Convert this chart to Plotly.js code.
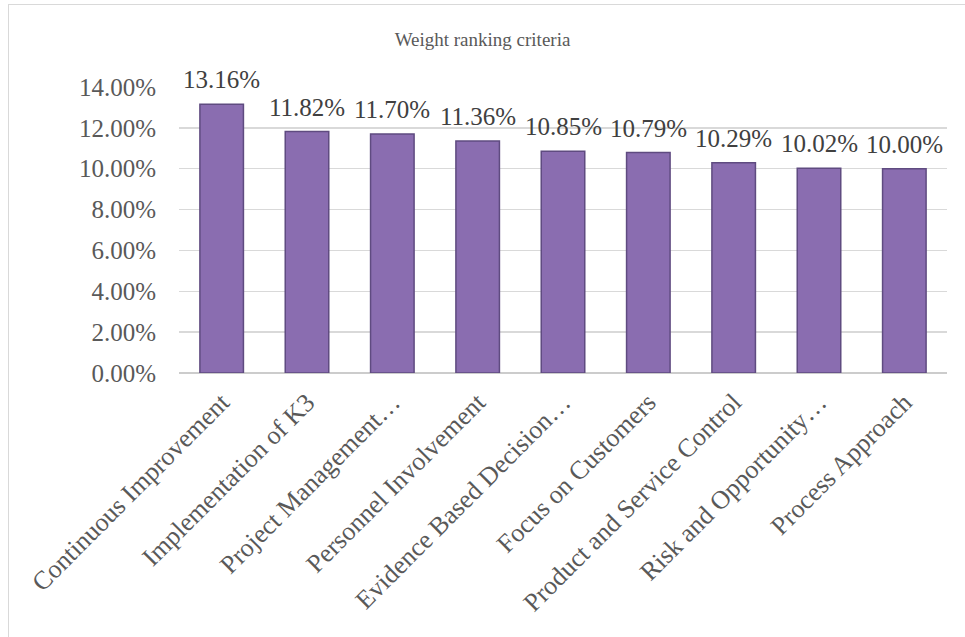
<!DOCTYPE html>
<html>
<head>
<meta charset="utf-8">
<script src="https://cdn.plot.ly/plotly-3.0.1.min.js"></script>
<style>
  html, body { margin: 0; padding: 0; background: #ffffff; }
  #wrap { position: relative; width: 965px; height: 637px; }
  #chart { width: 965px; height: 637px; }
  #frame { position: absolute; left: 8px; top: 4px; width: 960px; height: 640px;
           border-top: 1.5px solid #d9d9d9; border-left: 1.5px solid #d9d9d9;
           pointer-events: none; }
</style>
</head>
<body>
<div id="wrap">
  <div id="chart"></div>
  <div id="frame"></div>
</div>
<script>
const categories = [
  "Continuous Improvement",
  "Implementation of K3",
  "Project Management…",
  "Personnel Involvement",
  "Evidence Based Decision…",
  "Focus on Customers",
  "Product and Service Control",
  "Risk and Opportunity…",
  "Process Approach"
];
const weights = [0.1316, 0.1182, 0.1170, 0.1136, 0.1085, 0.1079, 0.1029, 0.1002, 0.1000];
const valueLabels = ["13.16%", "11.82%", "11.70%", "11.36%", "10.85%", "10.79%", "10.29%", "10.02%", "10.00%"];
const yTickVals = [0, 0.02, 0.04, 0.06, 0.08, 0.10, 0.12, 0.14];
const yTickText = ["0.00%", "2.00%", "4.00%", "6.00%", "8.00%", "10.00%", "12.00%", "14.00%"];
const chartTitle = "Weight ranking criteria";

const serif = "'Liberation Serif', 'Times New Roman', serif";

const trace = {
  type: "bar",
  x: categories,
  y: weights,
  width: 0.51,
  marker: {
    color: "#8a6db0",
    line: { color: "#5f4b80", width: 1.5 }
  },
  hoverinfo: "skip"
};

const annotations = categories.map((c, i) => ({
  x: c,
  y: weights[i],
  xref: "x",
  yref: "y",
  text: valueLabels[i],
  showarrow: false,
  yanchor: "bottom",
  xanchor: "center",
  yshift: 9,
  font: { family: serif, size: 25, color: "#404040" }
}));

const layout = {
  width: 965,
  height: 637,
  margin: { l: 179, r: 18, t: 87, b: 264 },
  paper_bgcolor: "#ffffff",
  plot_bgcolor: "#ffffff",
  showlegend: false,
  title: {
    text: chartTitle,
    xref: "container",
    yref: "container",
    x: 0.5,
    y: 1 - 39 / 637,
    xanchor: "center",
    yanchor: "middle",
    font: { family: serif, size: 19, color: "#595959" }
  },
  xaxis: {
    type: "category",
    tickangle: -45,
    ticks: "",
    showgrid: false,
    showline: false,
    zeroline: false,
    ticklabelstandoff: 8,
    tickfont: { family: serif, size: 26, color: "#595959" },
    automargin: false
  },
  yaxis: {
    range: [0, 0.14],
    tickvals: yTickVals,
    ticktext: yTickText,
    ticks: "",
    showgrid: true,
    gridcolor: "#d9d9d9",
    gridwidth: 1.5,
    zeroline: true,
    zerolinecolor: "#cccccc",
    zerolinewidth: 2,
    showline: false,
    ticklabelstandoff: 22,
    tickfont: { family: serif, size: 25, color: "#595959" },
    automargin: false
  },
  annotations: annotations
};

Plotly.newPlot("chart", [trace], layout, { displayModeBar: false, staticPlot: true });
</script>
</body>
</html>
